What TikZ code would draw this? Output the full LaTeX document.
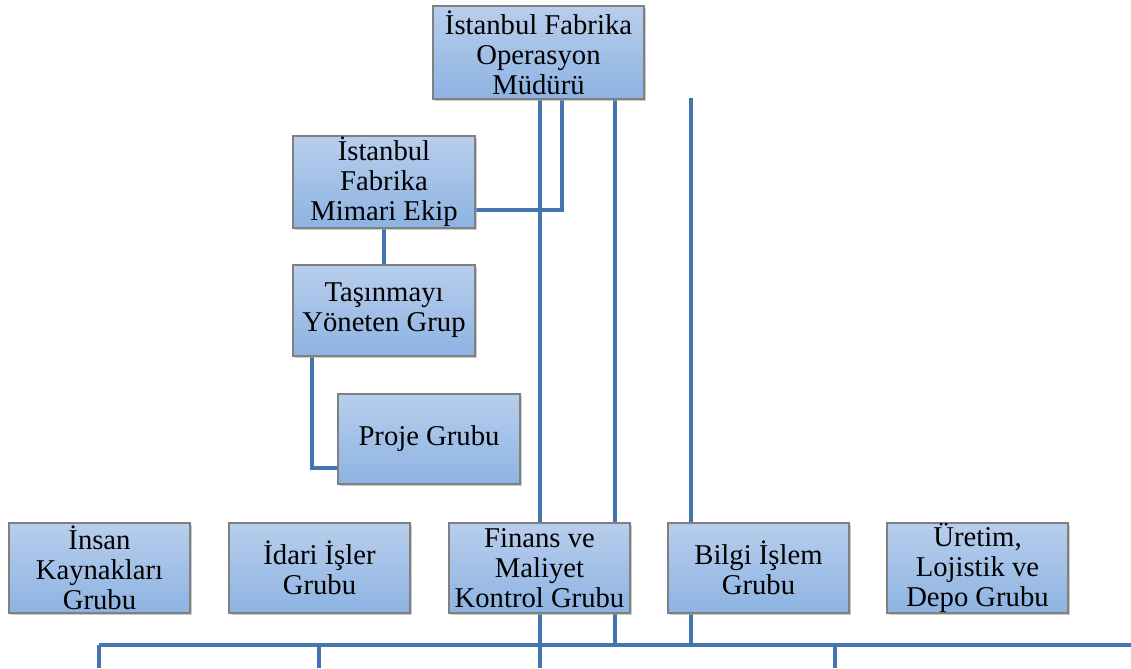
\documentclass[tikz,border=0pt]{standalone}
\usepackage{fontspec}
\setmainfont{Liberation Serif}
\usetikzlibrary{backgrounds,shadows}
\definecolor{boxtop}{RGB}{184,206,236}
\definecolor{boxbot}{RGB}{141,179,226}
\definecolor{boxline}{RGB}{128,128,128}
\definecolor{conn}{RGB}{68,117,176}
\begin{document}
\begin{tikzpicture}[x=0.75pt,y=-0.75pt,
  orgbox/.style={draw=boxline, line width=0.8pt, top color=boxtop, bottom color=boxbot,
    inner sep=0pt, align=center, font=\fontsize{21.5}{22.5}\selectfont,
    drop shadow={shadow xshift=1.2pt, shadow yshift=-1.2pt, fill=black!35, opacity=0.6}},
  link/.style={draw=conn, line width=2.6pt}]
\useasboundingbox (0,0) rectangle (1131,668);

\node[orgbox, minimum width=211*0.75pt, minimum height=93*0.75pt] (top) at (538.5,52.5) {İstanbul Fabrika\\Operasyon\\Müdürü};
\node[orgbox, minimum width=182*0.75pt, minimum height=92*0.75pt] (mimari) at (384,182) {İstanbul\\Fabrika\\Mimari Ekip};
\node[orgbox, minimum width=182*0.75pt, minimum height=91*0.75pt] (tasin) at (384,310.5) {Taşınmayı\\Yöneten Grup};
\node[orgbox, minimum width=182*0.75pt, minimum height=90*0.75pt] (proje) at (429,439) {Proje Grubu};

\node[orgbox, minimum width=181*0.75pt, minimum height=90*0.75pt] (insan) at (99.5,568) {İnsan\\Kaynakları\\Grubu};
\node[orgbox, minimum width=181*0.75pt, minimum height=90*0.75pt] (idari) at (319.5,568) {İdari İşler\\Grubu};
\node[orgbox, minimum width=181*0.75pt, minimum height=90*0.75pt] (finans) at (539.5,568) {Finans ve\\Maliyet\\Kontrol Grubu};
\node[orgbox, minimum width=181*0.75pt, minimum height=90*0.75pt] (bilgi) at (758.5,568) {Bilgi İşlem\\Grubu};
\node[orgbox, minimum width=181*0.75pt, minimum height=90*0.75pt] (uretim) at (977.5,568) {Üretim,\\Lojistik ve\\Depo Grubu};

\coordinate (c540) at (540,99);
\coordinate (c562) at (562,99);
\coordinate (c615) at (615,99);
\coordinate (c691) at (691,98);
\coordinate (busL) at (99,645);
\coordinate (busR) at (1131,645);
\coordinate (d1) at (99,668);
\coordinate (d2) at (319,668);
\coordinate (d3) at (540,668);
\coordinate (d4) at (835,668);

\begin{pgfonlayer}{background}
\draw[link] (c540) -- (d3);
\draw[link] (c615) -- (c615 |- busL);
\draw[link] (c691) -- (c691 |- busL);
\draw[link] (c562) -- (562,210) -- (mimari.east |- 0,210);
\draw[link] (mimari.south) -- (tasin.north);
\draw[link] (tasin.south -| 312,0) -- (312,468) -- (proje.west |- 0,468);
\draw[link] (busL) -- (busR);
\draw[link] (busL) -- (d1);
\draw[link] (d2 |- busL) -- (d2);
\draw[link] (d4 |- busL) -- (d4);
\end{pgfonlayer}
\end{tikzpicture}
\end{document}
